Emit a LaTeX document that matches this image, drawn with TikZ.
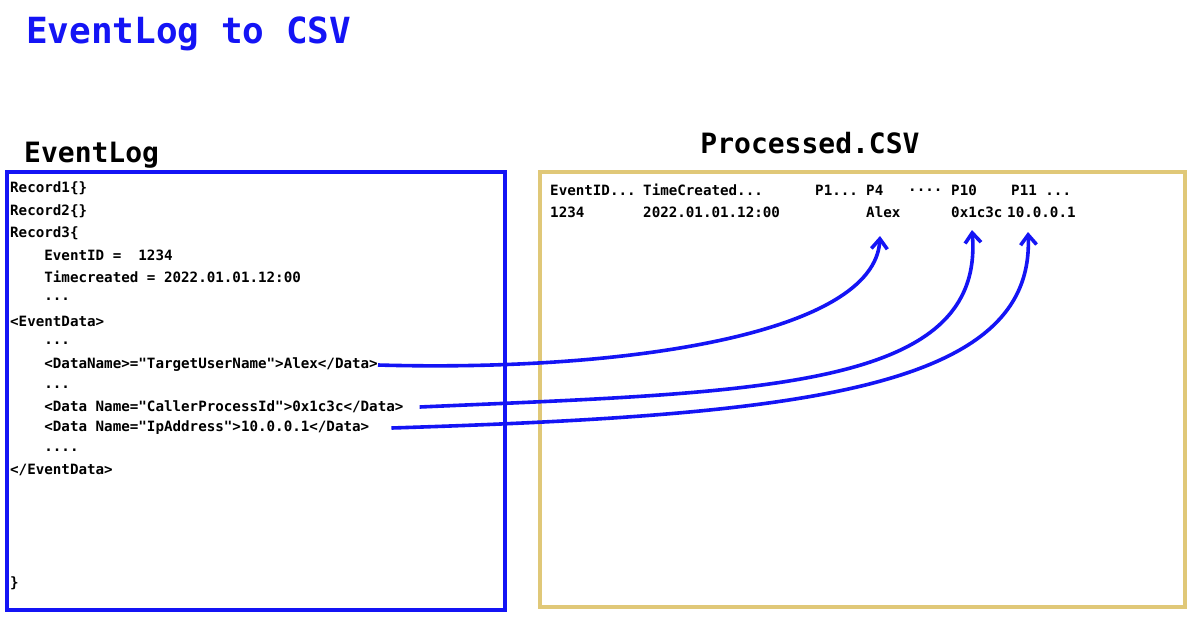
\documentclass[tikz,border=0pt]{standalone}
\usepackage{fontspec}
\setmonofont{DejaVu Sans Mono}
\usetikzlibrary{arrows.meta}
\definecolor{tblue}{RGB}{20,20,245}
\definecolor{gold}{RGB}{224,200,120}
\begin{document}
\begin{tikzpicture}[x=1pt,y=-1pt,
  code/.style={anchor=west,inner sep=0pt,font=\ttfamily\bfseries\fontsize{14.2}{16}\selectfont},
  link/.style={draw=tblue,line width=3.6pt,-{Straight Barb[length=10pt,width=16pt]}}]
\useasboundingbox (0,0) rectangle (1200,630);
\fill[white] (0,0) rectangle (1200,630);
\node[anchor=west,inner sep=0pt,text=tblue,font=\ttfamily\bfseries\fontsize{36}{40}\selectfont] (title) at (26,34) {EventLog to CSV};
\node[anchor=west,inner sep=0pt,font=\ttfamily\bfseries\fontsize{28}{30}\selectfont] (lbl) at (24,155) {EventLog};
\node[inner sep=0pt,font=\ttfamily\bfseries\fontsize{28}{30}\selectfont] (lbr) at (810,143) {Processed.CSV};
\draw[tblue,line width=3.4pt] (7,172) rectangle (505,610);
\draw[gold,line width=3.6pt] (540,172) rectangle (1185,607);
\foreach \t/\y/\n in {{Record1\{\}}/188/l1,{Record2\{\}}/211/l2,{Record3\{}/233/l3,
  {\ \ \ \ EventID =\ \ 1234}/255/l4,{\ \ \ \ Timecreated = 2022.01.01.12:00}/277/l5,
  {\ \ \ \ {...}}/299/l6,{<EventData>}/321/l7,{\ \ \ \ {...}}/343/l8,
  {\ \ \ \ <DataName>="TargetUserName">Alex</Data>}/365/l9,{\ \ \ \ {...}}/387/l10,
  {\ \ \ \ <Data Name="CallerProcessId">0x1c3c</Data>}/407/l11,
  {\ \ \ \ <Data Name="IpAddress">10.0.0.1</Data>}/428/l12,{\ \ \ \ {....}}/450/l13,
  {</EventData>}/470/l14,{\}}/583/l15}
  \node[code] (\n) at (10,\y) {\t};
\foreach \t/\x/\n in {{EventID{...}}/550/h1,{TimeCreated{...}}/643/h2,{P1{...}}/815/h3,{P4}/866/h4,{P10}/951/h6,{P11 {...}}/1011/h7}
  \node[code] (\n) at (\x,190) {\t};
\node[code] (h5) at (908,190) {....};
\foreach \t/\x/\n in {{1234}/550/v1,{2022.01.01.12:00}/643/v2,{Alex}/866/v3,{0x1c3c}/951/v4,{10.0.0.1}/1007/v5}
  \node[code] (\n) at (\x,212) {\t};
\coordinate (e1) at (880,236);
\coordinate (e2) at (972,230);
\coordinate (e3) at (1028,232);
\draw[link] (l9.east) .. controls (620,372) and (875,335) .. (e1);
\draw[link] (l11.east) ++(16,0) .. controls (760,392) and (985,390) .. (e2);
\draw[link] (l12.east) ++(22,0) .. controls (800,415) and (1035,390) .. (e3);
\end{tikzpicture}
\end{document}
